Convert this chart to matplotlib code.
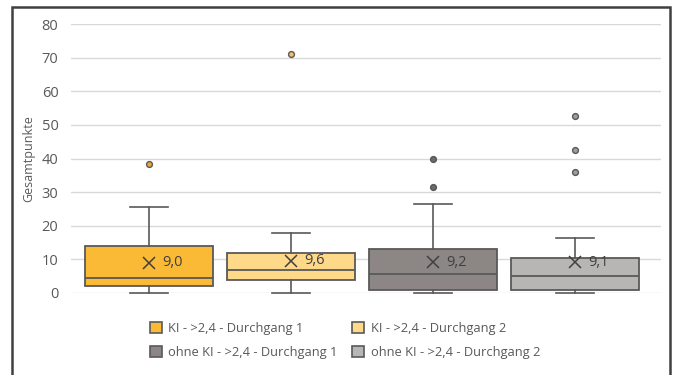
import matplotlib
matplotlib.use("Agg")
import matplotlib.pyplot as plt
from matplotlib.patches import Rectangle, Patch

plt.rcParams['font.family'] = ['Open Sans', 'DejaVu Sans']

labels = ["KI - >2,4 - Durchgang 1", "KI - >2,4 - Durchgang 2",
          "ohne KI - >2,4 - Durchgang 1", "ohne KI - >2,4 - Durchgang 2"]
q1 = [2.0, 3.9, 0.8, 0.8]
median = [4.5, 6.8, 5.6, 5.2]
q3 = [13.9, 12.0, 13.1, 10.3]
whislo = [0.0, 0.0, 0.0, 0.0]
whishi = [25.5, 17.9, 26.4, 16.4]
means = [9.0, 9.6, 9.2, 9.1]
mean_labels = ["9,0", "9,6", "9,2", "9,1"]
outliers = [[38.4], [71.1], [40.0, 31.5], [52.6, 42.5, 35.9]]
yticks = [0, 10, 20, 30, 40, 50, 60, 70, 80]

colors = ["#FBBA35", "#FFD98A", "#8C8685", "#B8B6B5"]
flier_fill = ["#F0A830", "#F5C060", "#6E6968", "#A09E9D"]
edge = "#595959"
text_c = "#595959"

W, H = 673, 375
fig = plt.figure(figsize=(W / 100, H / 100), dpi=100)
ax = fig.add_axes([71 / W, 1 - 293 / H, (661 - 71) / W, (293 - 24) / H])

stats = []
for i in range(4):
    stats.append(dict(q1=q1[i], med=median[i], q3=q3[i], whislo=whislo[i],
                      whishi=whishi[i], mean=means[i], fliers=outliers[i], label=labels[i]))

positions = list(range(4))
bp = ax.bxp(stats, positions=positions, widths=0.9, patch_artist=True,
            showmeans=False, showfliers=True,
            boxprops=dict(edgecolor=edge, linewidth=1.3),
            medianprops=dict(color=edge, linewidth=1.3),
            whiskerprops=dict(color=edge, linewidth=1.2),
            capprops=dict(color=edge, linewidth=1.2),
            capwidths=0.27)
for i, b in enumerate(bp['boxes']):
    b.set_facecolor(colors[i])
    b.set_zorder(3)
for i, f in enumerate(bp['fliers']):
    f.set(marker='o', markersize=4.2, markerfacecolor=flier_fill[i],
          markeredgecolor=edge, markeredgewidth=1.0, zorder=4)
for art in bp['whiskers'] + bp['caps'] + bp['medians']:
    art.set_clip_on(False)
    art.set_zorder(4)

for i in range(4):
    ax.plot(positions[i], means[i], marker='x', markersize=8, color="#404040",
            markeredgewidth=1.1, zorder=5, clip_on=False)
    ax.text(positions[i] + 0.09, means[i], mean_labels[i], ha='left', va='center',
            fontsize=10.5, color="#404040", zorder=6)

ax.set_xlim(-0.55, 3.605)
ax.set_ylim(0, 80)
ax.set_yticks(yticks)
ax.set_xticks([])
ax.yaxis.grid(True, color="#D9D9D9", linewidth=1.0)
ax.set_axisbelow(True)
for s in ax.spines.values():
    s.set_visible(False)
ax.tick_params(axis='y', length=0, pad=9, labelsize=10.5, labelcolor=text_c)
ax.set_ylabel("Gesamtpunkte", fontsize=9, color=text_c)
ax.yaxis.set_label_coords((35 - 71) / 590, 0.5)

handles = [Patch(facecolor=colors[i], edgecolor=edge, linewidth=1.2) for i in range(4)]
order = [0, 2, 1, 3]
fig.legend([handles[i] for i in order], [labels[i] for i in order], ncol=2,
           loc='upper left', bbox_to_anchor=(138 / W, 1 - 310 / H),
           frameon=False, fontsize=9.3, labelcolor=text_c, handlelength=0.95, handleheight=0.95,
           handletextpad=0.5, columnspacing=1.1, labelspacing=0.85)

fig.patches.append(Rectangle((12 / W, -0.05), (670 - 12) / W, 1.05 - 7 / H,
                             transform=fig.transFigure, fill=False,
                             edgecolor="#404040", linewidth=1.8))

fig.savefig("out.png", dpi=100)
